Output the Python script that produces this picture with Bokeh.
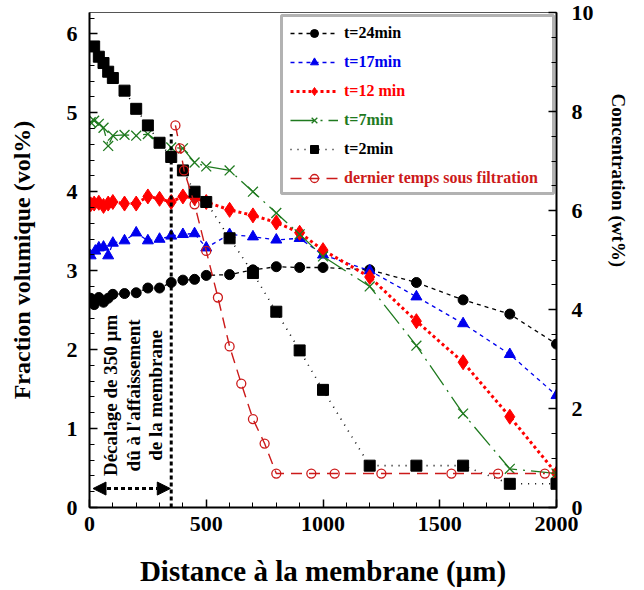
import math
from bokeh.plotting import figure
from bokeh.models import (Range1d, LinearAxis, Legend, LegendItem, BoxAnnotation,
                          Label, Arrow, NormalHead, SingleIntervalTicker, Title)
from bokeh.embed import file_html
from bokeh.resources import INLINE

# ---------------- data ----------------
SHIFT = 350  # µm, décalage dû à l'affaissement de la membrane

t24_x = [5, 20, 40, 60, 80, 100, 150, 200, 250, 300, 350, 400, 450, 500, 600, 700, 800, 900, 1000, 1200, 1400, 1600, 1800, 2000]
t24_y = [2.65, 2.57, 2.66, 2.60, 2.65, 2.70, 2.71, 2.72, 2.78, 2.78, 2.85, 2.88, 2.89, 2.94, 2.95, 3.01, 3.05, 3.04, 3.04, 3.01, 2.85, 2.63, 2.45, 2.07]

t17_x = [5, 25, 40, 60, 80, 100, 150, 200, 250, 300, 350, 400, 450, 500, 600, 700, 800, 900, 1000, 1200, 1400, 1600, 1800, 2000]
t17_y = [3.19, 3.25, 3.29, 3.30, 3.19, 3.35, 3.38, 3.48, 3.38, 3.40, 3.44, 3.46, 3.47, 3.29, 3.46, 3.43, 3.39, 3.41, 3.20, 3.00, 2.67, 2.33, 1.94, 1.42]

t12_x = [5, 20, 40, 60, 80, 100, 150, 200, 250, 300, 350, 400, 450, 500, 600, 700, 800, 900, 1000, 1200, 1400, 1600, 1800, 2000]
t12_y = [3.84, 3.85, 3.86, 3.82, 3.85, 3.87, 3.85, 3.85, 3.94, 3.91, 3.87, 3.94, 3.92, 3.87, 3.77, 3.70, 3.61, 3.48, 3.26, 2.92, 2.36, 1.84, 1.15, 0.43]

t7_x = [5, 20, 40, 60, 80, 100, 150, 200, 250, 300, 350, 400, 450, 500, 600, 700, 800, 900, 1000, 1200, 1400, 1600, 1800, 2000]
t7_y = [4.88, 4.90, 4.86, 4.81, 4.58, 4.71, 4.72, 4.71, 4.73, 4.62, 4.56, 4.55, 4.37, 4.32, 4.27, 4.00, 3.73, 3.46, 3.18, 2.80, 2.05, 1.19, 0.49, 0.43]

t2_x = [20, 40, 60, 80, 100, 150, 200, 250, 300, 350, 400, 450, 500, 600, 700, 800, 900, 1000, 1200, 1400, 1600, 1800, 2000]
t2_y = [5.84, 5.71, 5.63, 5.52, 5.44, 5.28, 5.05, 4.84, 4.62, 4.44, 4.27, 4.00, 3.87, 3.41, 2.97, 2.48, 1.99, 1.49, 0.53, 0.53, 0.53, 0.30, 0.30]

dern_x = [368, 388, 405, 450, 500, 550, 600, 650, 700, 750, 800, 950, 1050, 1250, 1550, 1750, 1950]
dern_y = [4.84, 4.55, 4.27, 3.84, 3.25, 2.66, 2.04, 1.57, 1.12, 0.81, 0.43, 0.43, 0.43, 0.43, 0.43, 0.43, 0.43]

labels = ["t=24min", "t=17min", "t=12 min", "t=7min", "t=2min", "dernier temps sous filtration"]

x_title = "Distance à la membrane (µm)"
y_title = "Fraction volumique (vol%)"
y2_title = "Concentration (wt%)"
note_lines = ["Décalage de 350 µm", "dû à l'affaissement", "de la membrane"]

FONT = "Liberation Serif"
BLUE = "#0000ee"
RED = "#ff0000"
GREEN = "#1f7a1f"
DRED = "#cc1a1a"

p = figure(width=644, height=590, output_backend="svg", toolbar_location=None,
           x_range=Range1d(0, 2000), y_range=Range1d(0, 6.27),
           min_border_left=89, min_border_right=88, min_border_top=12, min_border_bottom=83)
p.extra_y_ranges = {"conc": Range1d(0, 10)}
p.grid.visible = False
p.outline_line_color = "#555555"
p.outline_line_width = 1
p.background_fill_color = "white"
p.border_fill_color = "white"


def style_axis(ax):
    ax.axis_line_width = 2
    ax.axis_line_color = "black"
    ax.major_tick_in = 8
    ax.major_tick_out = 0
    ax.minor_tick_in = 5
    ax.minor_tick_out = 0
    ax.major_tick_line_width = 1.5
    ax.minor_tick_line_width = 1
    ax.major_tick_line_color = "black"
    ax.minor_tick_line_color = "black"
    ax.major_label_text_font = FONT
    ax.major_label_text_font_style = "bold"
    ax.major_label_text_font_size = "22px"
    ax.major_label_text_color = "black"
    ax.axis_label_text_font = FONT
    ax.axis_label_text_font_style = "bold"
    ax.axis_label_text_color = "black"


xa = p.xaxis[0]
xa.ticker = SingleIntervalTicker(interval=500, num_minor_ticks=5)
style_axis(xa)
xa.axis_label = x_title
xa.axis_label_text_font_size = "29px"
xa.major_label_standoff = 9
xa.axis_label_standoff = 21

ya = p.yaxis[0]
ya.ticker = SingleIntervalTicker(interval=1, num_minor_ticks=5)
style_axis(ya)
ya.axis_label = y_title
ya.axis_label_text_font_size = "24px"
ya.major_label_standoff = 12
ya.axis_label_standoff = 29

ra = LinearAxis(y_range_name="conc", ticker=SingleIntervalTicker(interval=2, num_minor_ticks=4))
style_axis(ra)
ra.major_label_standoff = 15
p.add_layout(ra, "right")

p.add_layout(Title(text=y2_title, align="left", offset=81, standoff=22,
                   text_font=FONT, text_font_style="bold", text_font_size="19px",
                   text_color="black"), "right")

# ---------------- series ----------------
series = [
    (t24_x, t24_y, "black", "4 4", 1.3, "circle", 10, "black", labels[0], "black"),
    (t17_x, t17_y, BLUE, "4 4", 1.3, "triangle", 11, BLUE, labels[1], BLUE),
    (t12_x, t12_y, RED, "3 3", 3, "diamond", 15, RED, labels[2], RED),
    (t7_x, t7_y, GREEN, "24 6 2 6", 1.3, "x", 14, None, labels[3], GREEN),
    (t2_x, t2_y, "black", "1 6", 1.6, "square", 11, "black", labels[4], "black"),
    (dern_x, dern_y, DRED, "11 7", 1.4, "circle", 9, None, labels[5], DRED),
]

row_centers = [21, 50, 79, 108, 137, 166]

for (xs, ys, col, dash, lw, mk, sz, fill, lab, tcol), c in zip(series, row_centers):
    lr = p.line(xs, ys, line_color=col, line_dash=dash, line_width=lw)
    mr = p.scatter(xs, ys, marker=mk, size=sz, line_color=col,
                   fill_color=fill, line_width=1.3 if fill is None else 1)
    leg = Legend(items=[LegendItem(label=lab, renderers=[lr, mr])],
                 location=(201, 485 - c), padding=0, margin=0, spacing=0,
                 glyph_width=48, glyph_height=20, label_height=20, label_standoff=6,
                 label_text_font=FONT, label_text_font_style="bold",
                 label_text_font_size="16px", label_text_color=tcol,
                 border_line_color=None, background_fill_alpha=0)
    p.add_layout(leg)

# legend frame
p.add_layout(BoxAnnotation(left=192, right=464, top=492, bottom=314,
                           left_units="screen", right_units="screen",
                           top_units="screen", bottom_units="screen",
                           fill_alpha=0, line_color="black", line_width=3))

# shift marker
p.segment(x0=[SHIFT], y0=[0], x1=[SHIFT], y1=[4.73], line_color="black",
          line_dash="4 3", line_width=3)
p.add_layout(Arrow(start=NormalHead(size=13, fill_color="black", line_color="black"),
                   end=NormalHead(size=13, fill_color="black", line_color="black"),
                   x_start=15, y_start=0.24, x_end=SHIFT - 4, y_end=0.24,
                   line_color="black", line_dash="4 3", line_width=3))

for xi, txt in zip([90, 187, 283], note_lines):
    p.add_layout(Label(x=xi, y=1.42, text=txt, angle=math.pi / 2,
                       text_align="center", text_baseline="middle",
                       text_font=FONT, text_font_style="bold",
                       text_font_size="19px", text_color="black"))

open("out.html", "w").write(file_html(p, INLINE))
